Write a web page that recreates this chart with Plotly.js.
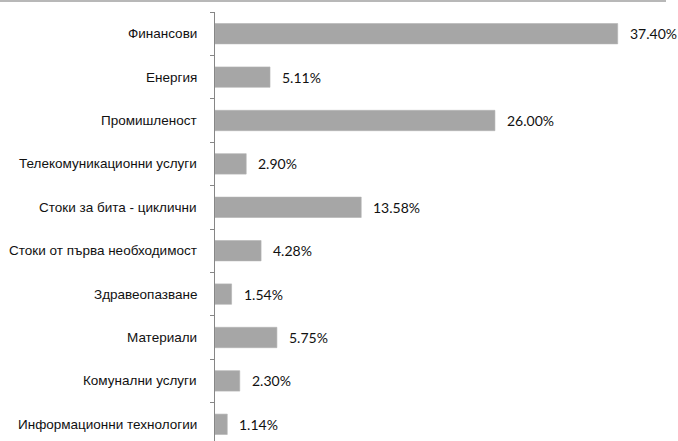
<!DOCTYPE html>
<html>
<head>
<meta charset="utf-8">
<script src="https://cdn.plot.ly/plotly-3.0.1.min.js"></script>
<style>html,body{margin:0;padding:0;overflow:hidden;background:#fff;}</style>
</head>
<body>
<div id="chart" style="width:678px;height:441px;"></div>
<script>
const categories = [
  "Финансови",
  "Енергия",
  "Промишленост",
  "Телекомуникационни услуги",
  "Стоки за бита - циклични",
  "Стоки от първа необходимост",
  "Здравеопазване",
  "Материали",
  "Комунални услуги",
  "Информационни технологии"
];
const values = [37.40, 5.11, 26.00, 2.90, 13.58, 4.28, 1.54, 5.75, 2.30, 1.14];
const labels = ["37.40%", "5.11%", "26.00%", "2.90%", "13.58%", "4.28%", "1.54%", "5.75%", "2.30%", "1.14%"];

const W = 678, H = 441;
const M = {l: 215, r: 0, t: 12, b: 0};
const plotW = W - M.l - M.r, plotH = H - M.t - M.b;

const trace = {
  type: 'bar',
  orientation: 'h',
  x: values,
  y: categories,
  marker: {color: '#a6a6a6', line: {color: '#b4b4b4', width: 0.6}},
  width: 0.47,
  hoverinfo: 'skip'
};

const valueNotes = values.map((v, i) => ({
  x: v, y: categories[i], xref: 'x', yref: 'y',
  text: labels[i], showarrow: false,
  xanchor: 'left', yanchor: 'middle', xshift: 10,
  font: {family: 'Lato, "Open Sans", sans-serif', size: 14, color: '#111111'}
}));

const catNotes = categories.map((c) => ({
  x: -16 / plotW, y: c, xref: 'paper', yref: 'y',
  text: c, showarrow: false,
  xanchor: 'right', yanchor: 'middle',
  font: {family: '"Liberation Sans", Arial, sans-serif', size: 13.5, color: '#111111'}
}));

const layout = {
  width: W, height: H,
  margin: M,
  paper_bgcolor: '#ffffff',
  plot_bgcolor: '#ffffff',
  showlegend: false,
  xaxis: {
    range: [0, 43],
    visible: false,
    fixedrange: true
  },
  yaxis: {
    type: 'category',
    range: [9.385, -0.5],
    showline: true,
    linecolor: '#868686',
    linewidth: 1,
    ticks: 'outside',
    tickson: 'boundaries',
    ticklen: 4,
    tickcolor: '#868686',
    tickwidth: 1,
    showgrid: false,
    zeroline: false,
    showticklabels: false,
    fixedrange: true
  },
  annotations: valueNotes.concat(catNotes),
  shapes: [{
    type: 'line', xref: 'paper', yref: 'paper',
    x0: -M.l / plotW, x1: (666 - M.l) / plotW,
    y0: 1 + (M.t - 1) / plotH, y1: 1 + (M.t - 1) / plotH,
    line: {color: '#a0a0a0', width: 1.5}
  }]
};

Plotly.newPlot('chart', [trace], layout, {displayModeBar: false, staticPlot: true});
</script>
</body>
</html>
